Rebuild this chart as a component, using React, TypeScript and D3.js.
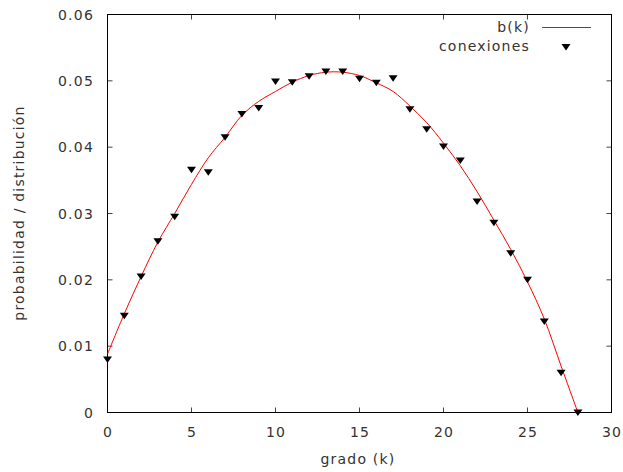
import * as d3 from "d3";
import React, { useRef, useEffect } from "react";

// grado k for the measured points
const grados = [0, 1, 2, 3, 4, 5, 6, 7, 8, 9, 10, 11, 12, 13, 14, 15, 16, 17, 18, 19, 20, 21, 22, 23, 24, 25, 26, 27, 28];
// conexiones
const conexiones = [0.0080, 0.0146, 0.0205, 0.0258, 0.0295, 0.0366, 0.0362, 0.0415, 0.0450, 0.0459, 0.0499, 0.0498, 0.0507, 0.0514, 0.0514, 0.0503, 0.0497, 0.0504, 0.0457, 0.0427, 0.0401, 0.0380, 0.0318, 0.0286, 0.0240, 0.0200, 0.0137, 0.0060, 0.0000];
// b(k) curve, read at each integer k
const curvaB = [0.0088, 0.0149, 0.0205, 0.0257, 0.0300, 0.0344, 0.0384, 0.0415, 0.0448, 0.0469, 0.0484, 0.0498, 0.0508, 0.0513, 0.0513, 0.0508, 0.0497, 0.0484, 0.0462, 0.0437, 0.0406, 0.0372, 0.0333, 0.0290, 0.0246, 0.0197, 0.0141, 0.0070, 0.0000];

const xTicks = [0, 5, 10, 15, 20, 25, 30];
const yTicks = [0, 0.01, 0.02, 0.03, 0.04, 0.05, 0.06];

function Chart() {
  const ref = useRef(null);

  useEffect(() => {
    const svg = d3.select(ref.current);
    svg.selectAll("*").remove();
    draw(svg);
  }, []);

  const draw = (svg) => {
    const font = "DejaVu Sans, sans-serif";
    const x = d3.scaleLinear().domain([0, 30]).range([107.5, 611.5]);
    const y = d3.scaleLinear().domain([0, 0.06]).range([412.5, 14.5]);
    const tick = 5;

    svg.append("rect").attr("width", 623).attr("height", 472).attr("fill", "#fff");

    // ticks on all four sides, pointing in
    const tg = svg.append("g").attr("stroke", "#444").attr("stroke-width", 1);
    xTicks.forEach((t) => {
      tg.append("line").attr("x1", x(t)).attr("x2", x(t)).attr("y1", y(0)).attr("y2", y(0) - tick);
      tg.append("line").attr("x1", x(t)).attr("x2", x(t)).attr("y1", y(0.06)).attr("y2", y(0.06) + tick);
    });
    yTicks.forEach((t) => {
      tg.append("line").attr("x1", x(0)).attr("x2", x(0) + tick).attr("y1", y(t)).attr("y2", y(t));
      tg.append("line").attr("x1", x(30)).attr("x2", x(30) - tick).attr("y1", y(t)).attr("y2", y(t));
    });

    svg.append("rect")
      .attr("x", x(0)).attr("y", y(0.06))
      .attr("width", x(30) - x(0)).attr("height", y(0) - y(0.06))
      .attr("fill", "none").attr("stroke", "#000").attr("stroke-width", 1);

    const lab = svg.append("g")
      .attr("font-family", font).attr("font-size", 14)
      .attr("letter-spacing", 1.2).attr("fill", "#333");
    xTicks.forEach((t) => {
      lab.append("text").attr("x", x(t) + 0.6).attr("y", 437).attr("text-anchor", "middle").text(t);
    });
    yTicks.forEach((t) => {
      lab.append("text").attr("x", 94).attr("y", y(t) + 5).attr("text-anchor", "end").text(t === 0 ? "0" : d3.format(".2f")(t));
    });
    lab.append("text").attr("x", 358).attr("y", 464).attr("text-anchor", "middle").text("grado (k)");
    lab.append("text")
      .attr("transform", "translate(24,213) rotate(-90)")
      .attr("text-anchor", "middle").text("probabilidad / distribución");

    // b(k) curve
    const line = d3.line().x((d, i) => x(grados[i])).y((d) => y(d)).curve(d3.curveCatmullRom);
    svg.append("path").datum(curvaB).attr("d", line).attr("fill", "none").attr("stroke", "#ff0000").attr("stroke-width", 1);

    const tri = (cx, cy) => `M${cx - 4.5},${cy - 3}L${cx + 4.5},${cy - 3}L${cx},${cy + 3.5}Z`;
    svg.append("g").selectAll("path").data(conexiones).enter().append("path")
      .attr("d", (d, i) => tri(x(grados[i]), y(d)))
      .attr("fill", "#000");

    // legend
    lab.append("text").attr("x", 530).attr("y", 32).attr("text-anchor", "end").text("b(k)");
    lab.append("text").attr("x", 530).attr("y", 51).attr("text-anchor", "end").text("conexiones");
    svg.append("line").attr("x1", 542).attr("x2", 591).attr("y1", 27.5).attr("y2", 27.5).attr("stroke", "#ff0000").attr("stroke-width", 1);
    svg.append("path").attr("d", tri(566, 47)).attr("fill", "#000");
  };

  return <svg ref={ref} width={623} height={472} style={{ position: "absolute", left: 0, top: 0 }}></svg>;
}

export default function App() {
  return <Chart />;
}
